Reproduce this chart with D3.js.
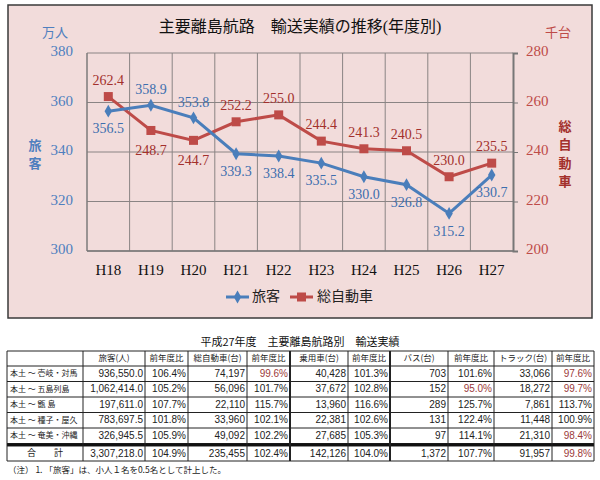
<!DOCTYPE html>
<html>
<head>
<meta charset="utf-8">
<script src="https://cdn.jsdelivr.net/npm/d3@7"></script>
<style>
body{margin:0;background:#fff}
</style>
</head>
<body>
<div id="viz"></div>
<script>
//Chart data
let years = ["H18","H19","H20","H21","H22","H23","H24","H25","H26","H27"]
let passengers = [356.5,358.9,353.8,339.3,338.4,335.5,330.0,326.8,315.2,330.7]
let vehicles = [262.4,248.7,244.7,252.2,255.0,244.4,241.3,240.5,230.0,235.5]
let passLabelAbove = [false,true,true,false,false,false,false,false,false,false]
let vehLabelAbove = [true,false,false,true,true,true,true,true,true,true]
let leftTicks = [300,320,340,360,380]
let rightTicks = [200,220,240,260,280]

//Table data
let tableHeaders = ["","旅客(人)","前年度比","総自動車(台)","前年度比","乗用車(台)","前年度比","バス(台)","前年度比","トラック(台)","前年度比"]
let routes = ["本土 ～ 壱岐・対馬","本土 ～ 五島列島","本土 ～ 甑 島","本土 ～ 種子・屋久","本土 ～ 奄美・沖縄","合　　計"]
let passCount = ["936,550.0","1,062,414.0","197,611.0","783,697.5","326,945.5","3,307,218.0"]
let passRatio = ["106.4%","105.2%","107.7%","101.8%","105.9%","104.9%"]
let vehCount = ["74,197","56,096","22,110","33,960","49,092","235,455"]
let vehRatio = ["99.6%","101.7%","115.7%","102.1%","102.2%","102.4%"]
let carCount = ["40,428","37,672","13,960","22,381","27,685","142,126"]
let carRatio = ["101.3%","102.8%","116.6%","102.6%","105.3%","104.0%"]
let busCount = ["703","152","289","131","97","1,372"]
let busRatio = ["101.6%","95.0%","125.7%","122.4%","114.1%","107.7%"]
let truckCount = ["33,066","18,272","7,861","11,448","21,310","91,957"]
let truckRatio = ["97.6%","99.7%","113.7%","100.9%","98.4%","99.8%"]

let serif = "'Liberation Serif','Times New Roman','DejaVu Serif','Noto Sans CJK JP',serif"
let jp = "'Noto Sans CJK JP',sans-serif"
let tblFont = "'Liberation Sans','Noto Sans CJK JP',sans-serif"

let blue = "#4a7ebb", blueText = "#3d6eae", blueAxis = "#4f7fbf"
let red = "#be4b48", redText = "#a3302c"

let svg = d3.select('#viz').append('svg').attr("width",600).attr("height",480)

//Chart box
svg.append("rect").attr("x",8).attr("y",5).attr("width",584).attr("height",313)
    .attr("fill","#f2dcdb").attr("stroke","#3a3a3a").attr("stroke-width",1.5)

let plotL = 87, plotR = 513, plotT = 53, plotB = 251

let x = d3.scaleBand().domain(years).range([plotL,plotR])
let yL = d3.scaleLinear().domain([300,380]).range([plotB,plotT])
let yR = d3.scaleLinear().domain([200,280]).range([plotB,plotT])

//Gridlines
svg.append("g").selectAll("line").data(leftTicks).join("line")
    .attr("x1",plotL).attr("x2",plotR).attr("y1",d=>yL(d)).attr("y2",d=>yL(d))
    .attr("stroke","#8a8484").attr("stroke-width",1)
svg.append("g").selectAll("line").data(years).join("line")
    .attr("x1",d=>x(d)).attr("x2",d=>x(d)).attr("y1",plotT).attr("y2",plotB)
    .attr("stroke","#8a8484").attr("stroke-width",1)

//Right axis with ticks
let rightAxis = svg.append("g").attr("transform",`translate(${plotR},0)`)
    .call(d3.axisRight(yR).tickValues(rightTicks).tickSize(5).tickFormat(""))
rightAxis.select(".domain").attr("stroke","#777").attr("stroke-width",2)
rightAxis.selectAll(".tick line").attr("stroke","#777")
svg.append("line").attr("x1",plotL).attr("x2",plotR).attr("y1",plotB).attr("y2",plotB)
    .attr("stroke","#777").attr("stroke-width",1.5)
svg.append("line").attr("x1",plotL).attr("x2",plotL).attr("y1",plotT).attr("y2",plotB)
    .attr("stroke","#777").attr("stroke-width",1)

//Tick labels
svg.append("g").selectAll("text").data(leftTicks).join("text").text(d=>d)
    .attr("x",73).attr("y",d=>yL(d)).attr("text-anchor","end").attr("dominant-baseline","middle")
    .attr("font-family",serif).attr("font-size",15).attr("fill",blueAxis)
svg.append("g").selectAll("text").data(rightTicks).join("text").text(d=>d)
    .attr("x",526).attr("y",d=>yR(d)).attr("text-anchor","start").attr("dominant-baseline","middle")
    .attr("font-family",serif).attr("font-size",15).attr("fill",red)
svg.append("g").selectAll("text").data(years).join("text").text(d=>d)
    .attr("x",d=>x(d)+x.bandwidth()/2).attr("y",272).attr("text-anchor","middle").attr("dominant-baseline","middle")
    .attr("font-family",serif).attr("font-size",15).attr("fill","#111")

//Titles and axis labels
svg.append("text").text("主要離島航路　輸送実績の推移(年度別)").attr("x",300).attr("y",28)
    .attr("text-anchor","middle").attr("dominant-baseline","middle")
    .attr("font-family",serif).attr("font-size",16).attr("fill","#111")
svg.append("text").text("万人").attr("x",55).attr("y",33).attr("text-anchor","middle").attr("dominant-baseline","middle")
    .attr("font-family",jp).attr("font-size",13).attr("fill",blueAxis)
svg.append("text").text("千台").attr("x",558).attr("y",33).attr("text-anchor","middle").attr("dominant-baseline","middle")
    .attr("font-family",jp).attr("font-size",13).attr("fill",red)
svg.append("g").selectAll("text").data(["旅","客"]).join("text").text(d=>d)
    .attr("x",35).attr("y",(d,i)=>146+i*18).attr("text-anchor","middle").attr("dominant-baseline","middle")
    .attr("font-family",jp).attr("font-size",13).attr("font-weight","bold").attr("fill",blueAxis)
svg.append("g").selectAll("text").data(["総","自","動","車"]).join("text").text(d=>d)
    .attr("x",565).attr("y",(d,i)=>127+i*18.5).attr("text-anchor","middle").attr("dominant-baseline","middle")
    .attr("font-family",jp).attr("font-size",13).attr("font-weight","bold").attr("fill",redText)

//Lines
let cx = d=>x(d)+x.bandwidth()/2
let passLine = d3.line().x((d,i)=>cx(years[i])).y(d=>yL(d))
let vehLine = d3.line().x((d,i)=>cx(years[i])).y(d=>yR(d))

svg.append("path").attr("d",vehLine(vehicles)).attr("fill","none").attr("stroke",red).attr("stroke-width",3)
svg.append("path").attr("d",passLine(passengers)).attr("fill","none").attr("stroke",blue).attr("stroke-width",3)

svg.append("g").selectAll("rect").data(vehicles).join("rect")
    .attr("x",(d,i)=>cx(years[i])-4.5).attr("y",d=>yR(d)-4.5).attr("width",9).attr("height",9).attr("fill",red)
svg.append("g").selectAll("path").data(passengers).join("path")
    .attr("d",d3.symbol(d3.symbolDiamond,48))
    .attr("transform",(d,i)=>`translate(${cx(years[i])},${yL(d)})`).attr("fill",blue)

//Data labels
svg.append("g").selectAll("text").data(vehicles).join("text").text(d=>d.toFixed(1))
    .attr("x",(d,i)=>cx(years[i])).attr("y",(d,i)=>yR(d)+(vehLabelAbove[i]?-15:21))
    .attr("text-anchor","middle").attr("dominant-baseline","middle")
    .attr("font-family",serif).attr("font-size",14).attr("fill",redText)
svg.append("g").selectAll("text").data(passengers).join("text").text(d=>d.toFixed(1))
    .attr("x",(d,i)=>cx(years[i])).attr("y",(d,i)=>yL(d)+(passLabelAbove[i]?-14:19))
    .attr("text-anchor","middle").attr("dominant-baseline","middle")
    .attr("font-family",serif).attr("font-size",14).attr("fill",blueText)

//Legend
svg.append("line").attr("x1",226).attr("x2",249).attr("y1",297).attr("y2",297).attr("stroke",blue).attr("stroke-width",3)
svg.append("path").attr("d",d3.symbol(d3.symbolDiamond,48)).attr("transform","translate(237.5,297)").attr("fill",blue)
svg.append("text").text("旅客").attr("x",252).attr("y",297).attr("dominant-baseline","middle")
    .attr("font-family",jp).attr("font-size",14).attr("fill","#222")
svg.append("line").attr("x1",290).attr("x2",313).attr("y1",297).attr("y2",297).attr("stroke",red).attr("stroke-width",3)
svg.append("rect").attr("x",297).attr("y",292.5).attr("width",9).attr("height",9).attr("fill",red)
svg.append("text").text("総自動車").attr("x",317).attr("y",297).attr("dominant-baseline","middle")
    .attr("font-family",jp).attr("font-size",14).attr("fill","#222")

//Table
svg.append("text").text("平成27年度　主要離島航路別　輸送実績").attr("x",300).attr("y",343)
    .attr("text-anchor","middle").attr("dominant-baseline","middle")
    .attr("font-family",jp).attr("font-size",11).attr("fill","#111")

let colX = [7,83,145,188,247,290,348,390,448,494,552,594]
let thickCols = [5,7]
let rowY = [351,366,381.5,397,412.5,428,443.5]
let totalTop = 446, totalBot = 461

let columns = [routes,passCount,passRatio,vehCount,vehRatio,carCount,carRatio,busCount,busRatio,truckCount,truckRatio]
let redCells = {"99.6%":1,"95.0%":1,"97.6%":1,"99.7%":1,"98.4%":1,"99.8%":1}

let tbl = svg.append("g")
//horizontal lines
tbl.selectAll("line.h").data(rowY.concat([totalTop,totalBot])).join("line")
    .attr("x1",colX[0]).attr("x2",colX[colX.length-1]).attr("y1",d=>d).attr("y2",d=>d)
    .attr("stroke","#222").attr("stroke-width",1)
tbl.append("rect").attr("x",colX[0]).attr("y",rowY[6]).attr("width",colX[11]-colX[0]).attr("height",totalTop-rowY[6])
    .attr("fill","#111")
//vertical lines
tbl.selectAll("line.v").data(colX).join("line")
    .attr("x1",d=>d).attr("x2",d=>d).attr("y1",rowY[0]).attr("y2",totalBot)
    .attr("stroke","#222").attr("stroke-width",(d,i)=>thickCols.includes(i)?2:1)

//header
tbl.selectAll("text.hd").data(tableHeaders).join("text").text(d=>d)
    .attr("x",(d,i)=>(colX[i]+colX[i+1])/2).attr("y",(rowY[0]+rowY[1])/2+0.5)
    .attr("text-anchor","middle").attr("dominant-baseline","middle")
    .attr("font-family",jp).attr("font-size",8.5).attr("fill","#222")

//body cells
columns.forEach((col,ci)=>{
    col.forEach((v,ri)=>{
        let isTotal = ri==5
        let yy = isTotal ? (totalTop+totalBot)/2 : (rowY[ri+1]+rowY[ri+2])/2
        let t = tbl.append("text").text(v).attr("y",yy+0.5).attr("dominant-baseline","middle")
            .attr("font-size",ci==0?8:10).attr("font-family",ci==0?jp:tblFont)
            .attr("fill",(ci>0 && ci%2==0 && redCells[v])?"#9c3a3a":"#222")
        if(ci==0){
            if(isTotal){t.attr("x",(colX[0]+colX[1])/2).attr("text-anchor","middle").attr("font-size",9)}
            else{t.attr("x",colX[0]+3).attr("text-anchor","start")}
        }else{
            t.attr("x",colX[ci+1]-2).attr("text-anchor","end")
        }
    })
})

svg.append("text").text("（注） 1. 「旅客」は、小人１名を0.5名として計上した。").attr("x",8).attr("y",471)
    .attr("dominant-baseline","middle").attr("font-family",jp).attr("font-size",8.5).attr("fill","#222")
</script>
</body>
</html>
